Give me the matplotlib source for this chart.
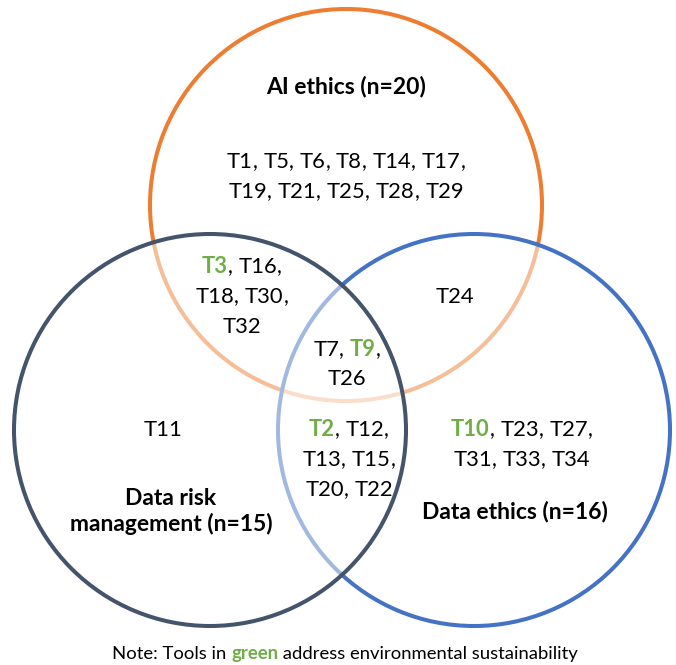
import matplotlib
matplotlib.use("Agg")
import matplotlib.pyplot as plt
from matplotlib.patches import Circle

# set names and sizes
set_names = ["AI ethics", "Data risk management", "Data ethics"]
set_counts = [20, 15, 16]

# tools per region
ai_only = ["T1", "T5", "T6", "T8", "T14", "T17", "T19", "T21", "T25", "T28", "T29"]
ai_risk = ["T3", "T16", "T18", "T30", "T32"]
ai_data = ["T24"]
all_three = ["T7", "T9", "T26"]
risk_only = ["T11"]
risk_data = ["T2", "T12", "T13", "T15", "T20", "T22"]
data_only = ["T10", "T23", "T27", "T31", "T33", "T34"]

# tools that address environmental sustainability
green_tools = ["T2", "T3", "T9", "T10"]

note_parts = ["Note: Tools in ", "green", " address environmental sustainability"]

ORANGE = "#ED7D31"
NAVY = "#44546A"
BLUE = "#4472C4"
GREEN = "#70AD47"
FONT = "Lato"
SIZE = 15.8
BOLD_SIZE = 16.5

fig = plt.figure(figsize=(6.76, 6.65), dpi=100)
ax = fig.add_axes([0, 0, 1, 1])
ax.set_xlim(0, 676)
ax.set_ylim(665, 0)
ax.axis("off")

# circles: orange first, then blue, then navy, each with a half-white fill
circles = [((346, 205), ORANGE), ((474, 430), BLUE), ((210, 430), NAVY)]
for (cx, cy), col in circles:
    ax.add_patch(Circle((cx, cy), 196, facecolor=(1, 1, 1, 0.5),
                        edgecolor=col, linewidth=2.9, zorder=2))

fig.canvas.draw()
renderer = fig.canvas.get_renderer()


def text_width(s, size, weight):
    t = ax.text(0, 0, "|" + s + "|", fontsize=size, fontweight=weight, family=FONT)
    w1 = t.get_window_extent(renderer).width
    t.remove()
    t = ax.text(0, 0, "||", fontsize=size, fontweight=weight, family=FONT)
    w0 = t.get_window_extent(renderer).width
    t.remove()
    return w1 - w0


def draw_line(x, y, parts, size=SIZE):
    # parts: list of (text, color, weight), centred at x
    widths = [text_width(s, size, w) for s, c, w in parts]
    x0 = x - sum(widths) / 2
    for (s, c, w), wd in zip(parts, widths):
        ax.text(x0, y, s, fontsize=size, fontweight=w, color=c, family=FONT,
                ha="left", va="baseline", zorder=3)
        x0 += wd


def tool_lines(x, y, tools, per_line, gap=30, size=SIZE):
    start = 0
    for i, n in enumerate(per_line):
        chunk = tools[start:start + n]
        start += n
        last = start >= len(tools)
        parts = []
        for j, t in enumerate(chunk):
            if t in green_tools:
                parts.append((t, GREEN, "bold"))
            else:
                parts.append((t, "black", "normal"))
            if j < len(chunk) - 1 or not last:
                parts.append(("," if j == len(chunk) - 1 else ", ", "black", "normal"))
        draw_line(x, y + i * gap, parts, size)


# set titles
draw_line(346, 93, [("%s (n=%d)" % (set_names[0], set_counts[0]), "black", "bold")], BOLD_SIZE)
draw_line(171, 505, [("Data risk", "black", "bold")], BOLD_SIZE)
draw_line(171, 531, [("management (n=%d)" % set_counts[1], "black", "bold")], BOLD_SIZE)
draw_line(515, 518, [("%s (n=%d)" % (set_names[2], set_counts[2]), "black", "bold")], BOLD_SIZE)

# region contents
tool_lines(346, 168, ai_only, [6, 5])
tool_lines(242, 273, ai_risk, [2, 2, 1])
tool_lines(455, 303, ai_data, [1])
tool_lines(347, 356, all_three, [2, 1], gap=29)
tool_lines(163, 436, risk_only, [1])
tool_lines(349, 436, risk_data, [2, 2, 2])
tool_lines(522, 436, data_only, [3, 3])

# note
draw_line(345, 659, [(note_parts[0], "black", "normal"),
                     (note_parts[1], GREEN, "bold"),
                     (note_parts[2], "black", "normal")], 13.3)

fig.savefig("out.png", dpi=100, facecolor="white")
